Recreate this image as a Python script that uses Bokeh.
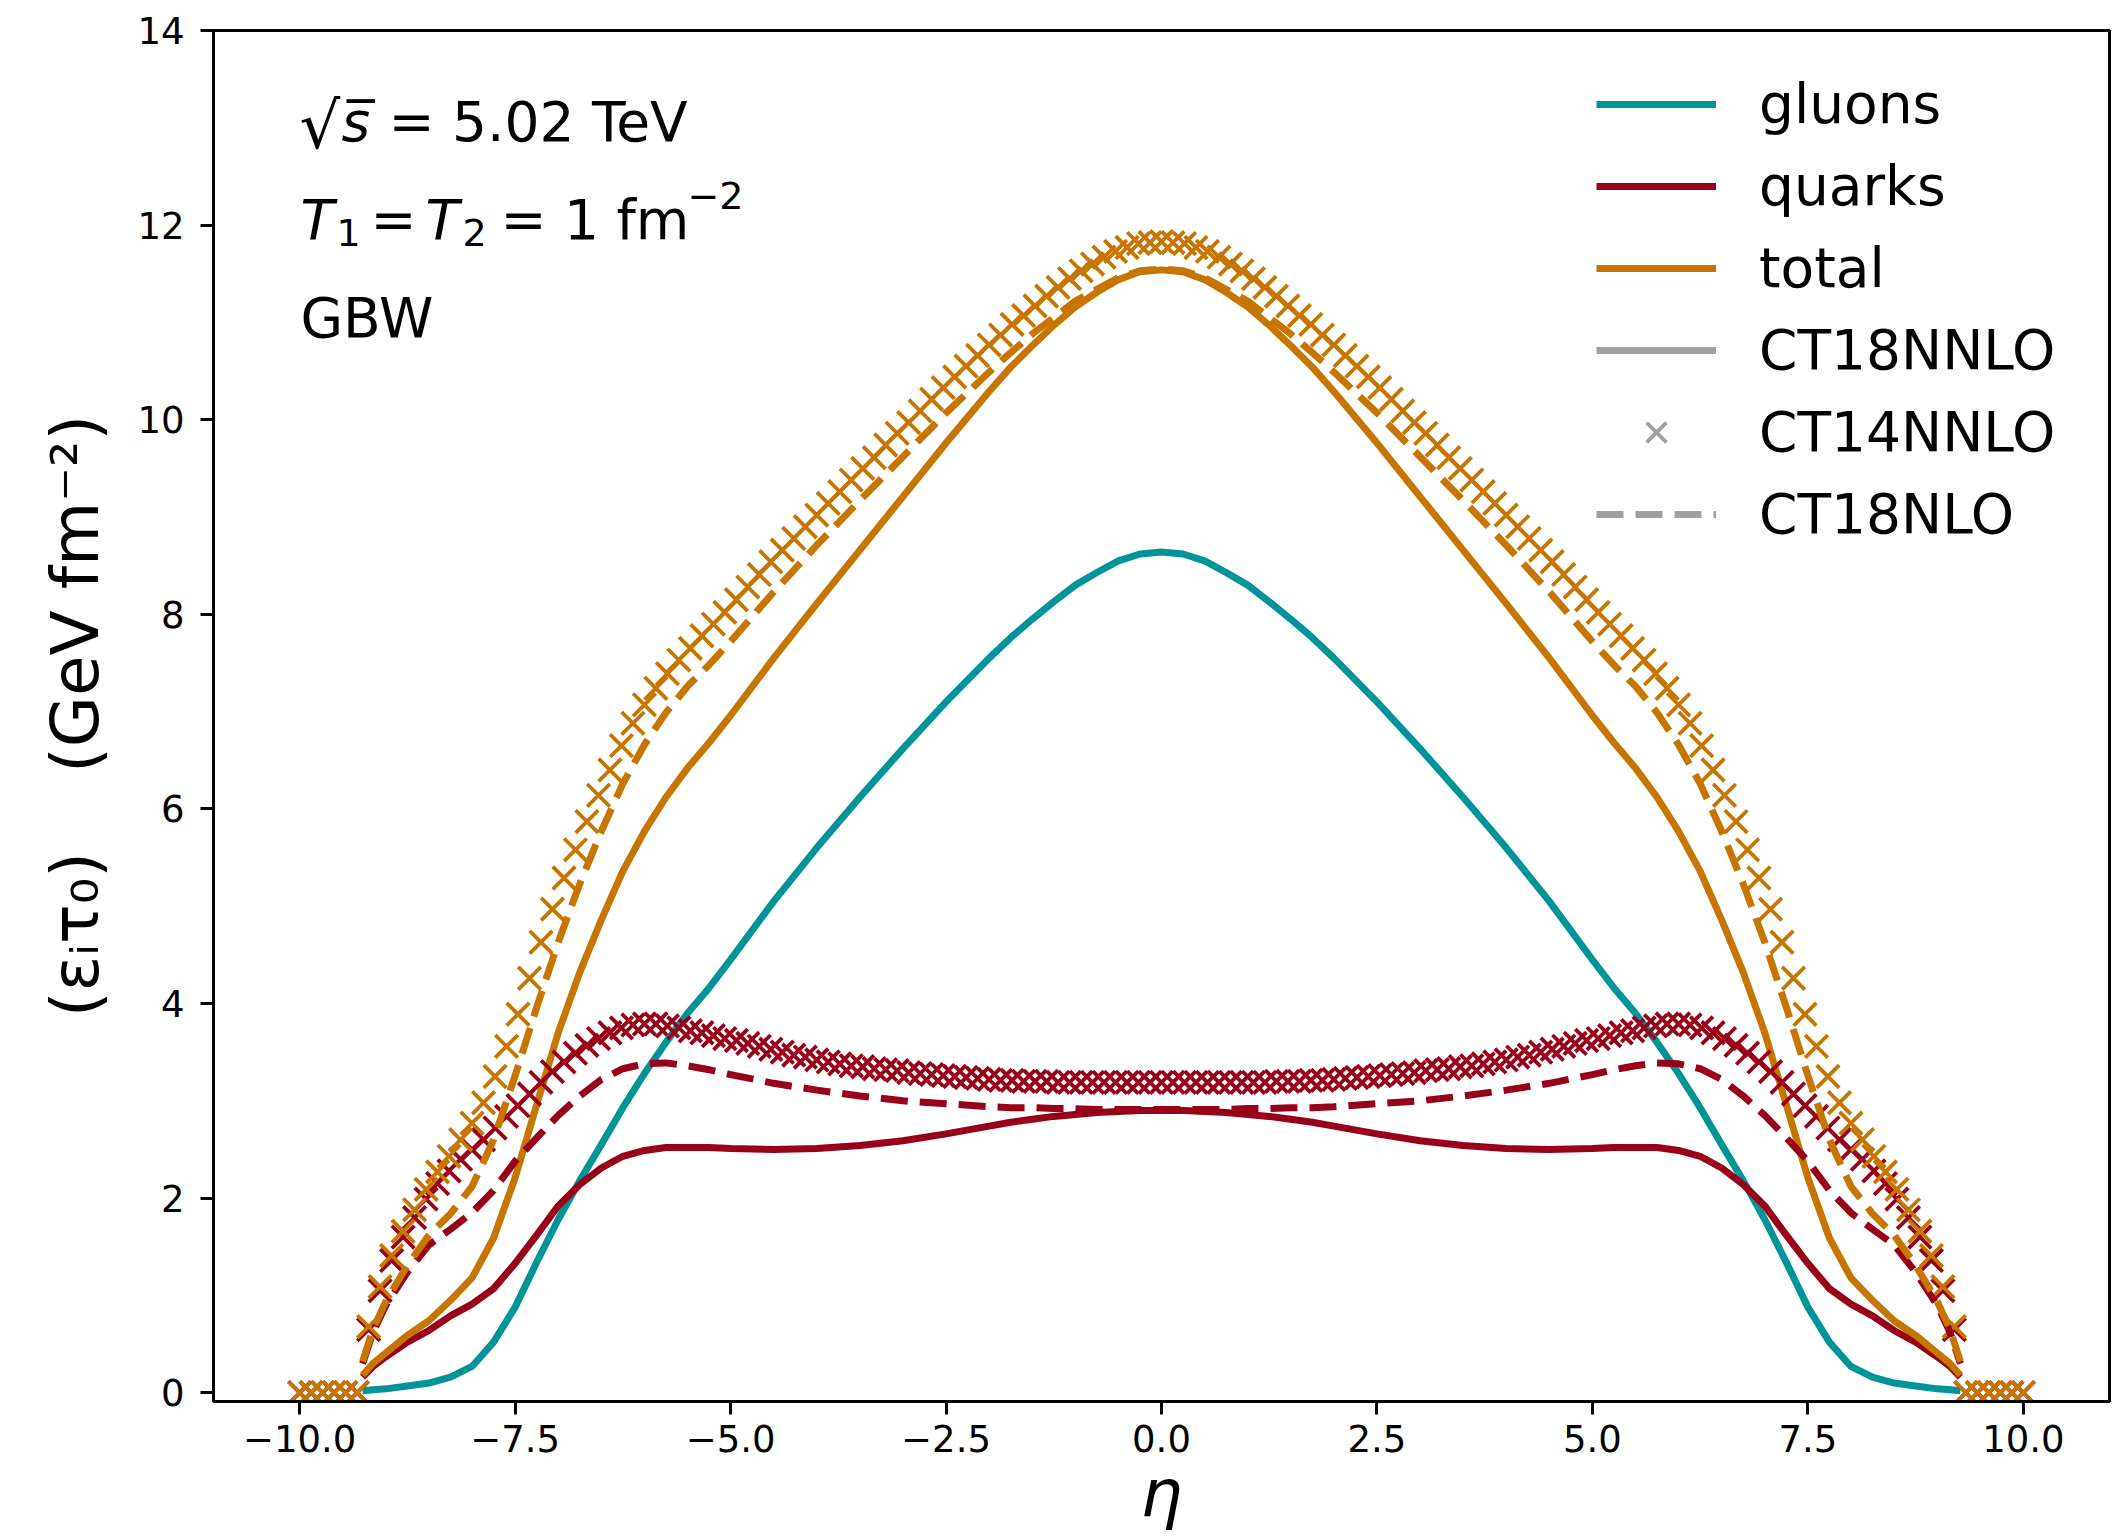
from bokeh.plotting import figure
from bokeh.models import Range1d, FixedTicker, Legend, LegendItem, Label
from bokeh.embed import file_html
from bokeh.resources import INLINE

# ---------------- data ----------------
# eta grid of the smooth CT18 curves
eta_line = [-9.27, -9.15, -9.0, -8.75, -8.5, -8.25, -8.0, -7.75, -7.5, -7.25, -7.0, -6.75, -6.5, -6.25,
            -6.0, -5.75, -5.5, -5.25, -5.0, -4.5, -4.0, -3.5, -3.0, -2.5, -2.0, -1.75, -1.5, -1.25, -1.0,
            -0.75, -0.5, -0.25, 0.0, 0.25, 0.5, 0.75, 1.0, 1.25, 1.5, 1.75, 2.0, 2.5, 3.0, 3.5, 4.0, 4.5,
            5.0, 5.25, 5.5, 5.75, 6.0, 6.25, 6.5, 6.75, 7.0, 7.25, 7.5, 7.75, 8.0, 8.25, 8.5, 8.75, 9.0,
            9.15, 9.27]

gluons = [0.02, 0.03, 0.04, 0.07, 0.10, 0.16, 0.27, 0.52, 0.88, 1.34, 1.78, 2.18, 2.55, 2.93,
          3.28, 3.60, 3.90, 4.16, 4.45, 5.05, 5.60, 6.12, 6.62, 7.10, 7.55, 7.76, 7.95, 8.13, 8.30,
          8.43, 8.55, 8.62, 8.64, 8.62, 8.55, 8.43, 8.30, 8.13, 7.95, 7.76, 7.55, 7.10, 6.62, 6.12, 5.60, 5.05,
          4.45, 4.16, 3.90, 3.60, 3.28, 2.93, 2.55, 2.18, 1.78, 1.34, 0.88, 0.52, 0.27, 0.16, 0.10, 0.07, 0.04,
          0.03, 0.02]

quarks_ct18nnlo = [0.16, 0.27, 0.37, 0.52, 0.64, 0.79, 0.91, 1.07, 1.33, 1.62, 1.92, 2.14, 2.31, 2.43,
                   2.49, 2.52, 2.52, 2.52, 2.51, 2.50, 2.51, 2.54, 2.59, 2.66, 2.74, 2.78, 2.81, 2.84, 2.86,
                   2.88, 2.89, 2.90, 2.90, 2.90, 2.89, 2.88, 2.86, 2.84, 2.81, 2.78, 2.74, 2.66, 2.59, 2.54, 2.51, 2.50,
                   2.51, 2.52, 2.52, 2.52, 2.49, 2.43, 2.31, 2.14, 1.92, 1.62, 1.33, 1.07, 0.91, 0.79, 0.64, 0.52, 0.37,
                   0.27, 0.16]

total_ct18nnlo = [0.18, 0.30, 0.41, 0.59, 0.74, 0.95, 1.18, 1.59, 2.21, 2.96, 3.70, 4.32, 4.86, 5.36,
                  5.77, 6.12, 6.42, 6.68, 6.96, 7.55, 8.11, 8.66, 9.21, 9.76, 10.29, 10.54, 10.76, 10.97, 11.16,
                  11.31, 11.44, 11.52, 11.54, 11.52, 11.44, 11.31, 11.16, 10.97, 10.76, 10.54, 10.29, 9.76, 9.21, 8.66, 8.11, 7.55,
                  6.96, 6.68, 6.42, 6.12, 5.77, 5.36, 4.86, 4.32, 3.70, 2.96, 2.21, 1.59, 1.18, 0.95, 0.74, 0.59, 0.41,
                  0.30, 0.18]

quarks_ct18nlo = [0.30, 0.62, 0.90, 1.24, 1.52, 1.68, 1.85, 2.08, 2.38, 2.62, 2.85, 3.05, 3.22, 3.33,
                  3.38, 3.39, 3.36, 3.32, 3.27, 3.18, 3.11, 3.05, 3.00, 2.97, 2.94, 2.93, 2.93, 2.92, 2.92,
                  2.91, 2.91, 2.91, 2.91, 2.91, 2.91, 2.91, 2.92, 2.92, 2.93, 2.93, 2.94, 2.97, 3.00, 3.05, 3.11, 3.18,
                  3.27, 3.32, 3.36, 3.39, 3.38, 3.33, 3.22, 3.05, 2.85, 2.62, 2.38, 2.08, 1.85, 1.68, 1.52, 1.24, 0.90,
                  0.62, 0.30]

total_ct18nlo = [0.32, 0.65, 0.94, 1.31, 1.62, 1.84, 2.12, 2.60, 3.26, 3.96, 4.63, 5.23, 5.77, 6.26,
                 6.66, 6.99, 7.26, 7.48, 7.72, 8.23, 8.71, 9.17, 9.62, 10.07, 10.49, 10.69, 10.88, 11.05, 11.22,
                 11.34, 11.46, 11.53, 11.55, 11.53, 11.46, 11.34, 11.22, 11.05, 10.88, 10.69, 10.49, 10.07, 9.62, 9.17, 8.71, 8.23,
                 7.72, 7.48, 7.26, 6.99, 6.66, 6.26, 5.77, 5.23, 4.63, 3.96, 3.26, 2.60, 2.12, 1.84, 1.62, 1.31, 0.94,
                 0.65, 0.32]

# eta grid of the CT14NNLO markers
eta_ct14 = [-10.0, -9.867, -9.733, -9.6, -9.467, -9.333, -9.2, -9.067, -8.933, -8.8, -8.667, -8.533, -8.4, -8.267, -8.133,
            -8.0, -7.867, -7.733, -7.6, -7.467, -7.333, -7.2, -7.067, -6.933, -6.8, -6.667, -6.533, -6.4, -6.267, -6.133,
            -6.0, -5.867, -5.733, -5.6, -5.467, -5.333, -5.2, -5.067, -4.933, -4.8, -4.667, -4.533, -4.4, -4.267, -4.133,
            -4.0, -3.867, -3.733, -3.6, -3.467, -3.333, -3.2, -3.067, -2.933, -2.8, -2.667, -2.533, -2.4, -2.267, -2.133,
            -2.0, -1.867, -1.733, -1.6, -1.467, -1.333, -1.2, -1.067, -0.933, -0.8, -0.667, -0.533, -0.4, -0.267, -0.133,
            0.0,
            0.133, 0.267, 0.4, 0.533, 0.667, 0.8, 0.933, 1.067, 1.2, 1.333, 1.467, 1.6, 1.733, 1.867, 2.0,
            2.133, 2.267, 2.4, 2.533, 2.667, 2.8, 2.933, 3.067, 3.2, 3.333, 3.467, 3.6, 3.733, 3.867, 4.0,
            4.133, 4.267, 4.4, 4.533, 4.667, 4.8, 4.933, 5.067, 5.2, 5.333, 5.467, 5.6, 5.733, 5.867, 6.0,
            6.133, 6.267, 6.4, 6.533, 6.667, 6.8, 6.933, 7.067, 7.2, 7.333, 7.467, 7.6, 7.733, 7.867, 8.0,
            8.133, 8.267, 8.4, 8.533, 8.667, 8.8, 8.933, 9.067, 9.2, 9.333, 9.467, 9.6, 9.733, 9.867, 10.0]

quarks_ct14 = [0, 0, 0, 0, 0, 0, 0.65, 1.05, 1.36, 1.60, 1.80, 1.99, 2.15, 2.28, 2.40,
               2.50, 2.60, 2.72, 2.84, 2.95, 3.07, 3.19, 3.30, 3.40, 3.49, 3.57, 3.64, 3.70, 3.75, 3.78,
               3.79, 3.79, 3.77, 3.75, 3.72, 3.70, 3.67, 3.64, 3.62, 3.59, 3.56, 3.53, 3.50, 3.47, 3.45,
               3.42, 3.40, 3.38, 3.36, 3.35, 3.33, 3.32, 3.31, 3.29, 3.28, 3.27, 3.26, 3.25, 3.24, 3.23,
               3.22, 3.21, 3.21, 3.20, 3.20, 3.20, 3.19, 3.19, 3.19, 3.19, 3.19, 3.19, 3.19, 3.19, 3.19,
               3.19,
               3.19, 3.19, 3.19, 3.19, 3.19, 3.19, 3.19, 3.19, 3.19, 3.20, 3.20, 3.20, 3.21, 3.21, 3.22,
               3.23, 3.24, 3.25, 3.26, 3.27, 3.28, 3.29, 3.31, 3.32, 3.33, 3.35, 3.36, 3.38, 3.40, 3.42,
               3.45, 3.47, 3.50, 3.53, 3.56, 3.59, 3.62, 3.64, 3.67, 3.70, 3.72, 3.75, 3.77, 3.79, 3.79,
               3.78, 3.75, 3.70, 3.64, 3.57, 3.49, 3.40, 3.30, 3.19, 3.07, 2.95, 2.84, 2.72, 2.60, 2.50,
               2.40, 2.28, 2.15, 1.99, 1.80, 1.60, 1.36, 1.05, 0.65, 0, 0, 0, 0, 0, 0]

total_ct14 = [0, 0, 0, 0, 0, 0, 0.68, 1.09, 1.41, 1.66, 1.88, 2.09, 2.27, 2.43, 2.60,
              2.77, 2.98, 3.25, 3.56, 3.89, 4.26, 4.63, 4.97, 5.29, 5.58, 5.87, 6.14, 6.40, 6.65, 6.88,
              7.07, 7.24, 7.39, 7.53, 7.65, 7.78, 7.90, 8.02, 8.15, 8.28, 8.41, 8.54, 8.66, 8.78, 8.90,
              9.02, 9.14, 9.26, 9.38, 9.50, 9.61, 9.74, 9.86, 9.97, 10.09, 10.21, 10.33, 10.44, 10.55, 10.66,
              10.77, 10.87, 10.98, 11.07, 11.17, 11.27, 11.36, 11.45, 11.53, 11.60, 11.67, 11.73, 11.77, 11.81, 11.82,
              11.83,
              11.82, 11.81, 11.77, 11.73, 11.67, 11.60, 11.53, 11.45, 11.36, 11.27, 11.17, 11.07, 10.98, 10.87, 10.77,
              10.66, 10.55, 10.44, 10.33, 10.21, 10.09, 9.97, 9.86, 9.74, 9.61, 9.50, 9.38, 9.26, 9.14, 9.02,
              8.90, 8.78, 8.66, 8.54, 8.41, 8.28, 8.15, 8.02, 7.90, 7.78, 7.65, 7.53, 7.39, 7.24, 7.07,
              6.88, 6.65, 6.40, 6.14, 5.87, 5.58, 5.29, 4.97, 4.63, 4.26, 3.89, 3.56, 3.25, 2.98, 2.77,
              2.60, 2.43, 2.27, 2.09, 1.88, 1.66, 1.41, 1.09, 0.68, 0, 0, 0, 0, 0, 0]

x_tick_values = [-10.0, -7.5, -5.0, -2.5, 0.0, 2.5, 5.0, 7.5, 10.0]
x_tick_labels = ["\u221210.0", "\u22127.5", "\u22125.0", "\u22122.5", "0.0", "2.5", "5.0", "7.5", "10.0"]
y_tick_values = [0, 2, 4, 6, 8, 10, 12, 14]
y_tick_labels = ["0", "2", "4", "6", "8", "10", "12", "14"]

legend_labels = ["gluons", "quarks", "total", "CT18NNLO", "CT14NNLO", "CT18NLO"]

# ---------------- styling ----------------
TEAL = "#009499"
RED = "#990019"
ORANGE = "#c67500"
GREY = "#a0a0a0"
FONT = "DejaVu Sans"
LW = 7
DASH = "27 12"
MS = 32
MLW = 3.8
NAN = float("nan")

p = figure(frame_width=1896, frame_height=1371,
           x_range=Range1d(-11, 11), y_range=Range1d(-0.09, 14),
           output_backend="svg", toolbar_location=None,
           min_border_left=213, min_border_right=8, min_border_top=30, min_border_bottom=136)
p.xgrid.visible = False
p.ygrid.visible = False
p.outline_line_color = "black"
p.outline_line_width = 3
p.outline_line_alpha = 1.0
p.background_fill_color = "white"
p.border_fill_color = "white"

for ax in (p.xaxis[0], p.yaxis[0]):
    ax.axis_line_width = 3
    ax.axis_line_color = "black"
    ax.major_tick_line_width = 3
    ax.major_tick_line_color = "black"
    ax.major_tick_out = 13
    ax.major_tick_in = 0
    ax.minor_tick_line_color = None
    ax.major_label_text_font = FONT
    ax.major_label_text_font_size = "37px"
    ax.major_label_text_color = "black"
    ax.axis_label_text_font = FONT
    ax.axis_label_text_font_size = "66px"
    ax.axis_label_text_color = "black"

p.xaxis.ticker = FixedTicker(ticks=x_tick_values)
p.xaxis.major_label_overrides = {v: l for v, l in zip(x_tick_values, x_tick_labels)}
p.yaxis.ticker = FixedTicker(ticks=y_tick_values)
p.yaxis.major_label_overrides = {v: l for v, l in zip(y_tick_values, y_tick_labels)}

p.xaxis.axis_label = "\u03b7"
p.xaxis.axis_label_text_font_style = "italic"
p.xaxis.major_label_standoff = 10
p.xaxis.axis_label_standoff = 0

p.yaxis.axis_label = "(\u03b5\u1d62\u03c4\u2080)\u2003\u2009(GeV fm\u207b\u00b2)"
p.yaxis.axis_label_text_font_style = "normal"
p.yaxis.major_label_standoff = 16
p.yaxis.axis_label_standoff = 20

# CT18NNLO: solid lines
r_g = p.line(eta_line, gluons, line_color=TEAL, line_width=LW, line_join="round")
r_q = p.line(eta_line, quarks_ct18nnlo, line_color=RED, line_width=LW, line_join="round")
r_t = p.line(eta_line, total_ct18nnlo, line_color=ORANGE, line_width=LW, line_join="round")

# CT14NNLO: x markers
p.scatter(eta_ct14, quarks_ct14, marker="x", size=MS, line_color=RED, line_width=MLW)
p.scatter(eta_ct14, total_ct14, marker="x", size=MS, line_color=ORANGE, line_width=MLW)

# CT18NLO: dashed lines
p.line(eta_line, quarks_ct18nlo, line_color=RED, line_width=LW, line_dash=DASH, line_join="round")
p.line(eta_line, total_ct18nlo, line_color=ORANGE, line_width=LW, line_dash=DASH, line_join="round")

# legend-only (grey) renderers: a single NaN point each, so nothing is drawn in the plot
d_solid = p.line([NAN], [NAN], line_color=GREY, line_width=LW)
d_cross = p.scatter([NAN], [NAN], marker="x", size=MS, line_color=GREY, line_width=MLW)
d_dash = p.line([NAN], [NAN], line_color=GREY, line_width=LW, line_dash=DASH)

legend = Legend(
    items=[LegendItem(label=lab, renderers=[r]) for lab, r in
           zip(legend_labels, [r_g, r_q, r_t, d_solid, d_cross, d_dash])],
    location=(1383, 852), orientation="vertical",
    label_text_font=FONT, label_text_font_size="55px", label_text_color="black",
    glyph_width=120, glyph_height=70, label_height=70, label_standoff=43,
    spacing=12, padding=0, margin=0,
    border_line_color=None, background_fill_alpha=0)
p.add_layout(legend)

# annotation text (screen units relative to the plot frame)
def ann(x, y, text, size="55px", style="normal"):
    p.add_layout(Label(x=x, y=y, text=text, x_units="screen", y_units="screen",
                       text_font=FONT, text_font_size=size, text_font_style=style,
                       text_color="black", text_baseline="alphabetic", text_align="left"))

Y1, Y2, Y3 = 1280, 1182, 1084
ann(86, Y1 - 4, "\u221a", size="64px")
ann(128, Y1, "s\u0305", style="italic")
ann(175, Y1, "= 5.02 TeV")

ann(87, Y2, "T", style="italic")
ann(123, Y2 - 13, "1", size="38px")
ann(157, Y2, "=")
ann(212, Y2, "T", style="italic")
ann(249, Y2 - 13, "2", size="38px")
ann(287, Y2, "= 1")
ann(403, Y2, "fm")
ann(474, Y2 + 24, "\u22122", size="38px")

ann(87, Y3, "GBW")

open("out.html", "w").write(file_html(p, INLINE))
